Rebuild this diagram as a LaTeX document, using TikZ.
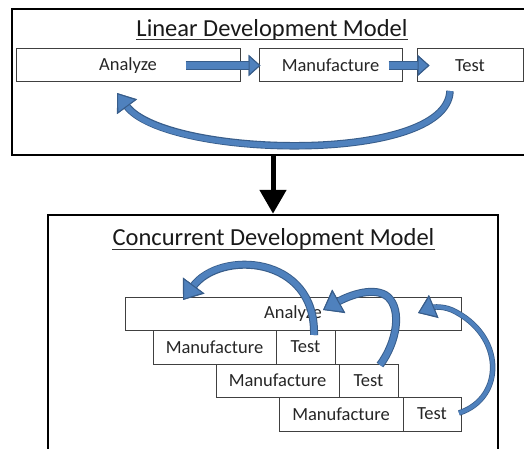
\documentclass[tikz,border=0pt]{standalone}
\usepackage{fontspec}
\setmainfont{Carlito}
\usetikzlibrary{arrows.meta}
\definecolor{myblue}{HTML}{4F81BD}
\definecolor{dkblue}{HTML}{385D8A}
\definecolor{boxline}{HTML}{404040}
\begin{document}
\begin{tikzpicture}[x=1pt,y=-1pt,
  frame/.style={draw=black, line width=2.5pt, rectangle, inner sep=0pt},
  stage/.style={draw=boxline, line width=1pt, rectangle, inner sep=0pt, font=\fontsize{18.5}{22}\selectfont, text=black!85},
  ttl/.style={inner sep=0pt, font=\fontsize{24.5}{28}\selectfont, anchor=base, text=black!90},
  uline/.style={draw=black!80, line width=1pt},
  blockarrow/.style={preaction={draw=dkblue, line width=9.5pt, -{Triangle[length=12pt,width=21pt]}},
    draw=myblue, line width=7.5pt, -{Triangle[length=12pt,width=21pt,fill=myblue,color=dkblue,line width=1pt]}},
  loopthick/.style={preaction={draw=dkblue, line width=8pt, -{Triangle[length=18pt,width=26pt]}},
    draw=myblue, line width=6pt, -{Triangle[length=18pt,width=26pt,fill=myblue,color=dkblue,line width=1pt]}},
  looptop/.style={preaction={draw=dkblue, line width=7.5pt, -{Triangle[length=17pt,width=24pt]}},
    draw=myblue, line width=5.5pt, -{Triangle[length=17pt,width=24pt,fill=myblue,color=dkblue,line width=1pt]}},
  loopthin/.style={preaction={draw=dkblue, line width=5.5pt, -{Triangle[length=17pt,width=24pt]}},
    draw=myblue, line width=4pt, -{Triangle[length=17pt,width=24pt,fill=myblue,color=dkblue,line width=1pt]}},
  downarrow/.style={draw=black, line width=5pt, -{Triangle[length=24pt,width=26pt]}}]
\useasboundingbox (0,0) rectangle (524,449);
\clip (0,0) rectangle (524,449);
\fill[white] (0,0) rectangle (524,449);

% frames
\node[frame, minimum width=522pt, minimum height=146pt] (topf) at (273,82) {};
\node[frame, minimum width=450pt, minimum height=255pt] (botf) at (273,342.5) {};

% titles
\node[ttl] (t1) at (272,36.5) {Linear Development Model};
\draw[uline] ([yshift=-3.5pt]t1.base west) -- ([yshift=-3.5pt]t1.base east);
\node[ttl] (t2) at (273.5,245) {Concurrent Development Model};
\draw[uline] ([yshift=-4pt]t2.base west) -- ([yshift=-4pt]t2.base east);

% linear model stages
\node[stage, minimum width=224pt, minimum height=33pt] (A) at (128,65.5) {Analyze};
\node[stage, minimum width=143pt, minimum height=33pt] (M) at (330.5,65.5) {Manufacture};
\node[stage, minimum width=106pt, minimum height=33pt] (T) at (470,65.5) {Test};

% concurrent model stages
\node[stage, minimum width=336pt, minimum height=33pt] (CA) at (293,313.5) {Analyze};
\node[stage, minimum width=123pt, minimum height=34pt] (M1) at (214.5,347) {Manufacture};
\node[stage, minimum width=59pt, minimum height=34pt] (T1) at (305.5,347) {Test};
\node[stage, minimum width=123pt, minimum height=33pt] (M2) at (277.5,380.5) {Manufacture};
\node[stage, minimum width=59pt, minimum height=33pt] (T2) at (368.5,380.5) {Test};
\node[stage, minimum width=124pt, minimum height=34pt] (M3) at (341,414) {Manufacture};
\node[stage, minimum width=58pt, minimum height=34pt] (T3) at (432,414) {Test};

% linear flow arrows
\draw[blockarrow] ([xshift=-55pt]A.east) -- ([xshift=2pt]M.west);
\draw[blockarrow] ([xshift=-14pt]M.east) -- ([xshift=13pt]T.west);

% linear feedback
\coordinate (ls) at (450,91);
\coordinate (le) at (117,93);
\draw[looptop] (ls) .. controls (447,165) and (165,158) .. (le);

% link between models
\draw[downarrow] (topf.south) -- (botf.north);

% concurrent feedback arrows
\coordinate (s1) at (314,335);
\coordinate (e1) at (183,300);
\draw[loopthick] (s1) .. controls (316,255) and (220,250) .. (e1);

\coordinate (s2) at (380,365);
\coordinate (m2) at (388,297);
\coordinate (e2) at (323,310);
\draw[loopthick] (s2) .. controls (397,342) and (402,310) .. (m2) .. controls (375,286) and (350,295) .. (e2);

\coordinate (s3) at (459,413);
\coordinate (m3) at (452,310);
\coordinate (e3) at (418,313);
\draw[loopthin] (s3) .. controls (505,398) and (505,335) .. (m3) .. controls (440,305) and (430,308) .. (e3);
\end{tikzpicture}
\end{document}
